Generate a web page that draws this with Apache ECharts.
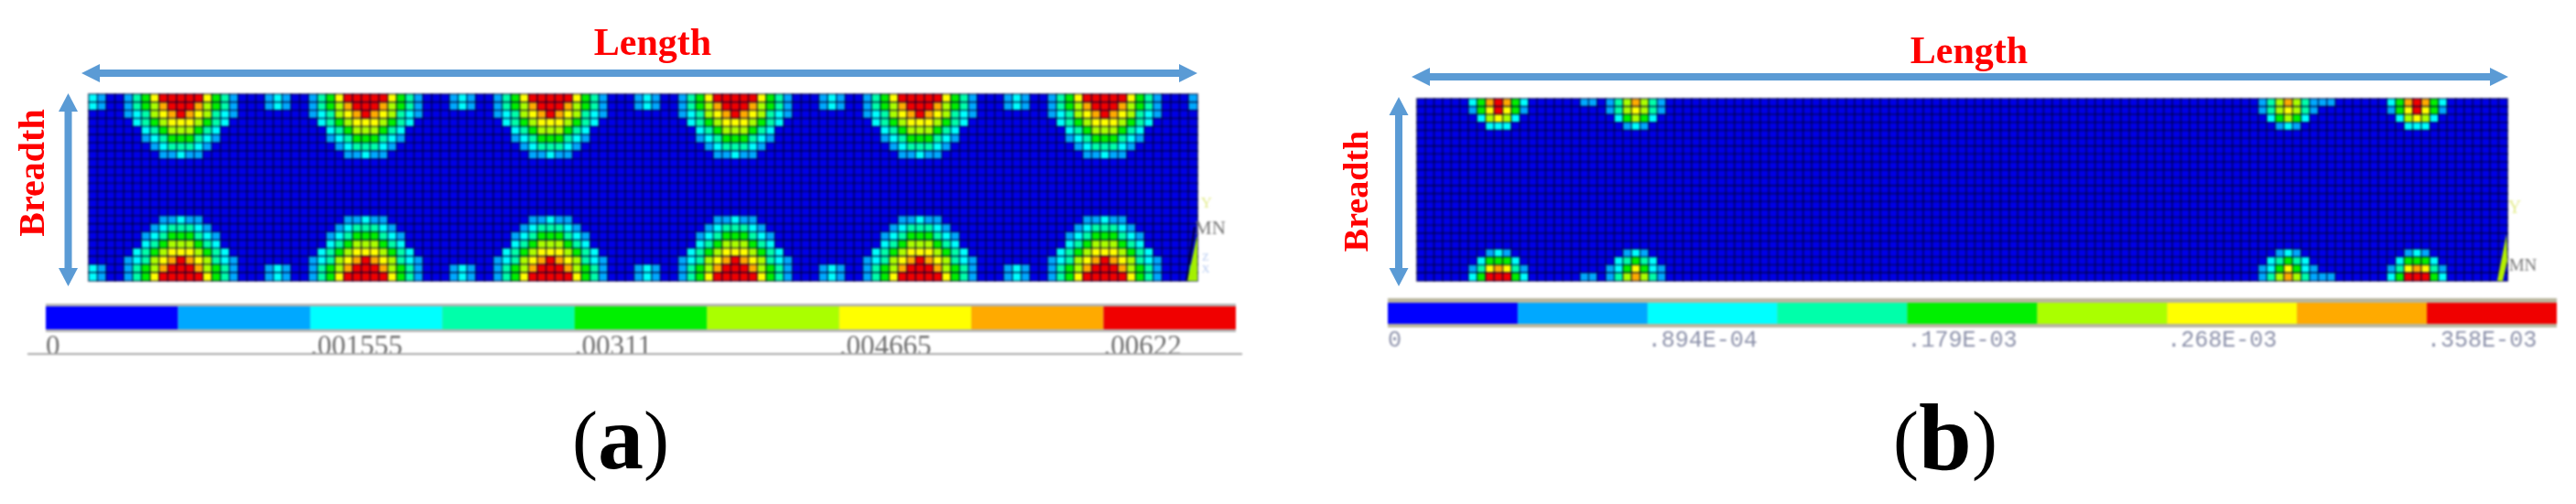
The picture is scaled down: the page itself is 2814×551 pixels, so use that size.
<!DOCTYPE html>
<html>
<head>
<meta charset="utf-8">
<script src="https://cdn.jsdelivr.net/npm/echarts@6/dist/echarts.min.js"></script>
<style>
html,body{margin:0;padding:0;background:#fff;width:2814px;height:551px;overflow:hidden}
#plot,#notes{position:absolute;left:0;top:0;width:2814px;height:551px}
#plot{filter:blur(1.2px)}
</style>
</head>
<body>
<div id="plot"></div>
<div id="notes"></div>
<script>
// nine contour bands, blue (lowest) to red (highest)
const bandColors = ['#0000ff','#00a8ff','#00ffff','#00ffaa','#00f000','#aaff00','#ffff00','#ffaa00','#f00000'];

// panel (a): one digit = contour band of one element, 126 columns x 23 rows
const rowsA = [
'210013468888864310001210013468888864310001210013468888864310001210013468888864310001210013468888864310001210013468888864310001',
'210013457888754310001210013457888754310001210013457888754310001210013457888754310001210013457888754310001210013457888754310001',
'000012356787653210000000012356787653210000000012356787653210000000012356787653210000000012356787653210000000012356787653210000',
'000002345666543200000000002345666543200000000002345666543200000000002345666543200000000002345666543200000000002345666543200000',
'000000234555432000000000000234555432000000000000234555432000000000000234555432000000000000234555432000000000000234555432000000',
'000000123444321000000000000123444321000000000000123444321000000000000123444321000000000000123444321000000000000123444321000000',
'000000012333210000000000000012333210000000000000012333210000000000000012333210000000000000012333210000000000000012333210000000',
'000000001121100000000000000001121100000000000000001121100000000000000001121100000000000000001121100000000000000001121100000000',
'000000000000000000000000000000000000000000000000000000000000000000000000000000000000000000000000000000000000000000000000000000',
'000000000000000000000000000000000000000000000000000000000000000000000000000000000000000000000000000000000000000000000000000000',
'000000000000000000000000000000000000000000000000000000000000000000000000000000000000000000000000000000000000000000000000000000',
'000000000000000000000000000000000000000000000000000000000000000000000000000000000000000000000000000000000000000000000000000000',
'000000000000000000000000000000000000000000000000000000000000000000000000000000000000000000000000000000000000000000000000000000',
'000000000000000000000000000000000000000000000000000000000000000000000000000000000000000000000000000000000000000000000000000000',
'000000000000000000000000000000000000000000000000000000000000000000000000000000000000000000000000000000000000000000000000000000',
'000000001121100000000000000001121100000000000000001121100000000000000001121100000000000000001121100000000000000001121100000000',
'000000012333210000000000000012333210000000000000012333210000000000000012333210000000000000012333210000000000000012333210000000',
'000000123444321000000000000123444321000000000000123444321000000000000123444321000000000000123444321000000000000123444321000000',
'000000234555432000000000000234555432000000000000234555432000000000000234555432000000000000234555432000000000000234555432000000',
'000002345666543200000000002345666543200000000002345666543200000000002345666543200000000002345666543200000000002345666543200000',
'000012356787653210000000012356787653210000000012356787653210000000012356787653210000000012356787653210000000012356787653210000',
'210013457888754310001210013457888754310001210013457888754310001210013457888754310001210013457888754310001210013457888754310001',
'210013468888864310001210013468888864310001210013468888864310001210013468888864310001210013468888864310001210013468888864310001'
];

// panel (b): 127 columns x 23 rows, band 0 everywhere except these runs: [row, first column, digits]
const colsB = 127, rowCountB = 23;
const hotRunsB = [
[0,6,'2478742'],[0,19,'11'],[0,22,'1357531'],[0,98,'1357531'],[0,105,'11'],[0,113,'2478742'],
[1,6,'1468641'],[1,22,'1356531'],[1,98,'1356531'],[1,113,'1468641'],
[2,7,'25652'],[2,23,'24542'],[2,99,'24542'],[2,114,'25652'],
[3,8,'222'],[3,24,'121'],[3,100,'121'],[3,115,'222'],
[19,8,'121'],[19,24,'121'],[19,100,'121'],[19,115,'121'],
[20,7,'24442'],[20,23,'23432'],[20,99,'23432'],[20,114,'24442'],
[21,6,'1367631'],[21,22,'1246421'],[21,98,'1246421'],[21,113,'1367631'],
[22,6,'2488842'],[22,19,'11'],[22,22,'1357531'],[22,98,'1357531'],[22,105,'11'],[22,113,'2488842']
];

// colour-bar scales and tick labels
const bandStepA = 0.0007775, tickStepA = 0.001555;
const tickLabelsA = ['0','.001555','.00311','.004665','.00622'];
const bandStepB = 0.0000447, tickStepB = 0.0000894;
const tickLabelsB = ['0','.894E-04','.179E-03','.268E-03','.358E-03'];

const cellsA = [];
rowsA.forEach((r, y) => { for (let x = 0; x < r.length; x++) cellsA.push([x, y, +r[x]]); });
const gridB = Array.from({length: rowCountB}, () => new Array(colsB).fill(0));
hotRunsB.forEach(([row, col, digits]) => { [...digits].forEach((d, i) => { gridB[row][col + i] = +d; }); });
const cellsB = [];
gridB.forEach((r, y) => r.forEach((v, x) => cellsB.push([x, y, v])));

const indices = n => Array.from({length: n}, (_, i) => i);
const heatStyle = {borderColor: 'rgba(0,0,50,0.62)', borderWidth: 1.6};
const barSeries = (axisIdx, step, id) => bandColors.map((c, i) => ({
  type: 'bar', stack: id, xAxisIndex: axisIdx, yAxisIndex: axisIdx, barWidth: '100%',
  data: [step], itemStyle: {color: c}, silent: true, z: 3
}));
const scaleAxis = (grid, step, tickStep, labels, size, color, margin, family) => ({
  type: 'value', gridIndex: grid, min: 0, max: step * 9, interval: tickStep,
  splitLine: {show: false}, axisLine: {show: false}, axisTick: {show: false},
  axisLabel: {
    show: true, showMaxLabel: false, margin, align: 'left', color,
    fontFamily: family, fontSize: size, hideOverlap: false,
    formatter: (v, i) => labels[i] ?? ''
  }
});

const plot = echarts.init(document.getElementById('plot'), null, {renderer: 'canvas'});
plot.setOption({
  animation: false,
  backgroundColor: 'transparent',
  grid: [
    {left: 97, top: 103, width: 1211, height: 204},
    {left: 1548, top: 108, width: 1191, height: 199},
    {left: 50, top: 335, width: 1300, height: 25},
    {left: 1516, top: 331, width: 1277, height: 23}
  ],
  xAxis: [
    {type: 'category', gridIndex: 0, show: false, data: indices(rowsA[0].length)},
    {type: 'category', gridIndex: 1, show: false, data: indices(colsB)},
    scaleAxis(2, bandStepA, tickStepA, tickLabelsA, 31, '#6e6e6e', 4, 'Liberation Serif'),
    scaleAxis(3, bandStepB, tickStepB, tickLabelsB, 25, '#8c91aa', 6, 'Liberation Mono')
  ],
  yAxis: [
    {type: 'category', gridIndex: 0, show: false, inverse: true, data: indices(rowsA.length)},
    {type: 'category', gridIndex: 1, show: false, inverse: true, data: indices(rowCountB)},
    {type: 'category', gridIndex: 2, show: false, data: ['scale']},
    {type: 'category', gridIndex: 3, show: false, data: ['scale']}
  ],
  visualMap: {
    show: false, type: 'piecewise', seriesIndex: [0, 1], dimension: 2,
    pieces: [{value:0,color:'#0000e6'}].concat(bandColors.slice(1).map((c, i) => ({value: i + 1, color: c})))
  },
  series: [
    {type: 'heatmap', xAxisIndex: 0, yAxisIndex: 0, data: cellsA, itemStyle: heatStyle, silent: true, progressive: 0},
    {type: 'heatmap', xAxisIndex: 1, yAxisIndex: 1, data: cellsB, itemStyle: heatStyle, silent: true, progressive: 0},
    ...barSeries(2, bandStepA, 'a'),
    ...barSeries(3, bandStepB, 'b')
  ],
  graphic: [
    {type: 'rect', z: 0, shape: {x: 50, y: 332, width: 1300, height: 31}, style: {fill: '#b4b4b4'}},
    {type: 'rect', z: 0, shape: {x: 1516, y: 326, width: 1277, height: 32}, style: {fill: '#b9b69e'}},
    {type: 'line', z: 5, shape: {x1: 30, y1: 387, x2: 1357, y2: 387}, style: {stroke: '#a8a8a8', lineWidth: 2}},
    {type: 'polygon', z: 20, shape: {points: [[1308,256],[1308,307],[1297,307]]}, style: {fill: '#a4f000'}},
    {type: 'line', z: 20, shape: {x1: 1305, y1: 248, x2: 1296, y2: 307}, style: {stroke: '#00003a', lineWidth: 2}},
    {type: 'polygon', z: 20, shape: {points: [[2738,256],[2739,285],[2734,307],[2728,307]]}, style: {fill: '#b4f000'}},
    {type: 'text', z: 20, style: {x: 1322, y: 250, text: 'MN', align: 'center', verticalAlign: 'middle', fill: '#777', font: '21px "Liberation Serif"'}},
    {type: 'text', z: 20, style: {x: 2756, y: 291, text: 'MN', align: 'center', verticalAlign: 'middle', fill: '#777', font: '19px "Liberation Serif"'}},
    {type: 'text', z: 20, style: {x: 1318, y: 223, text: 'Y', align: 'center', verticalAlign: 'middle', fill: '#e4ec90', font: '17px "Liberation Serif"'}},
    {type: 'text', z: 20, style: {x: 2747, y: 228, text: 'Y', align: 'center', verticalAlign: 'middle', fill: '#e4ec90', font: '20px "Liberation Serif"'}},
    {type: 'text', z: 20, style: {x: 1317, y: 282, text: 'Z', align: 'center', verticalAlign: 'middle', fill: '#b4c8f0', font: '12px "Liberation Serif"'}},
    {type: 'text', z: 20, style: {x: 1317, y: 295, text: 'X', align: 'center', verticalAlign: 'middle', fill: '#b4c8f0', font: '12px "Liberation Serif"'}}
  ]
});

// annotation layer: double-headed arrows, Length / Breadth labels, panel letters
const arrowBlue = '#5b9bd5';
function hArrow(x1, x2, y) {
  return [
    {type: 'rect', shape: {x: x1 + 18, y: y - 4, width: x2 - x1 - 36, height: 8}, style: {fill: arrowBlue}},
    {type: 'polygon', shape: {points: [[x1, y], [x1 + 20, y - 10], [x1 + 20, y + 10]]}, style: {fill: arrowBlue}},
    {type: 'polygon', shape: {points: [[x2, y], [x2 - 20, y - 10], [x2 - 20, y + 10]]}, style: {fill: arrowBlue}}
  ];
}
function vArrow(x, y1, y2) {
  return [
    {type: 'rect', shape: {x: x - 4, y: y1 + 18, width: 8, height: y2 - y1 - 36}, style: {fill: arrowBlue}},
    {type: 'polygon', shape: {points: [[x, y1], [x - 10.5, y1 + 20], [x + 10.5, y1 + 20]]}, style: {fill: arrowBlue}},
    {type: 'polygon', shape: {points: [[x, y2], [x - 10.5, y2 - 20], [x + 10.5, y2 - 20]]}, style: {fill: arrowBlue}}
  ];
}
const redLabel = (text, x, y, size, rotated) => ({
  type: 'text', x, y, rotation: rotated ? Math.PI / 2 : 0,
  style: {text, x: 0, y: 0, align: 'center', verticalAlign: 'middle', fill: '#ff0000',
          font: `bold ${size}px "Liberation Serif"`}
});
const panelLabel = (letter, x, y, size) => ({
  type: 'text',
  style: {
    text: `{p|(}{l|${letter}}{p|)}`, x, y, align: 'center', verticalAlign: 'middle',
    rich: {
      p: {fontFamily: 'Liberation Serif', fontSize: 84, fill: '#000', fontWeight: 'normal'},
      l: {fontFamily: 'Liberation Serif', fontSize: size, fill: '#000', fontWeight: 'bold'}
    }
  }
});
const notes = echarts.init(document.getElementById('notes'), null, {renderer: 'canvas'});
notes.setOption({
  animation: false,
  backgroundColor: 'transparent',
  graphic: [
    ...hArrow(89, 1308, 80),
    ...vArrow(74.5, 102, 313),
    ...hArrow(1542, 2740, 84),
    ...vArrow(1528, 106, 313),
    redLabel('Length', 713, 49, 42, false),
    redLabel('Length', 2151, 58, 42, false),
    redLabel('Breadth', 38, 189, 40, true),
    redLabel('Breadth', 1484, 209, 38, true),
    panelLabel('a', 678, 486, 100),
    panelLabel('b', 2125, 486, 104)
  ]
});
</script>
</body>
</html>
